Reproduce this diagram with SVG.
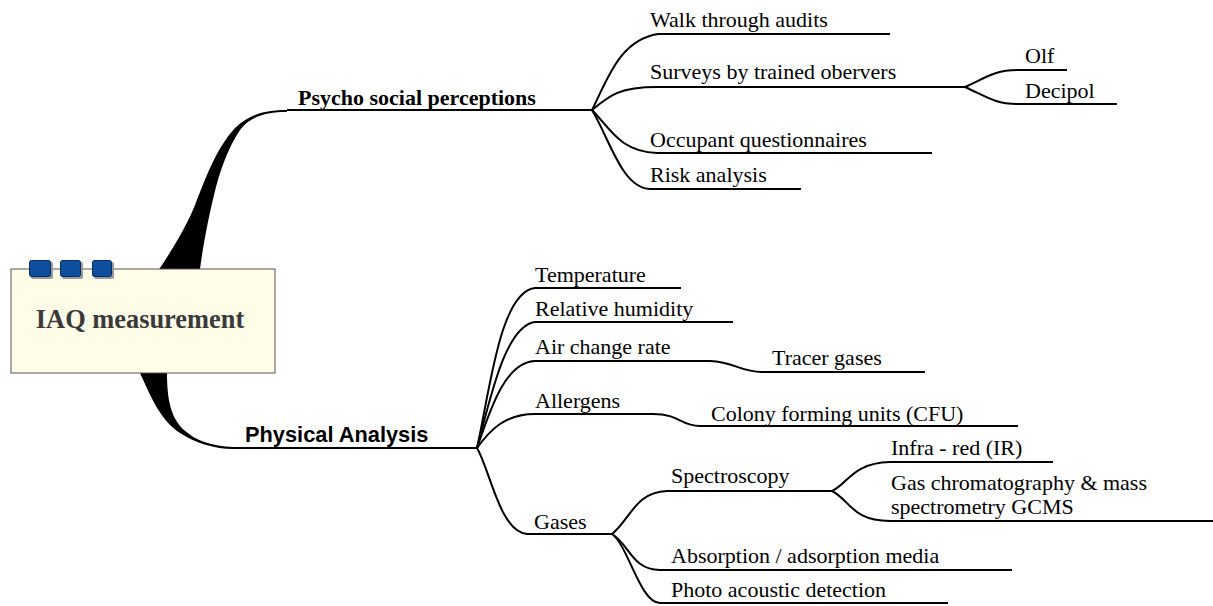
<svg xmlns="http://www.w3.org/2000/svg" width="1213" height="606" viewBox="0 0 1213 606">
<style>
.c{fill:none;stroke:#000;stroke-width:2;stroke-linejoin:round;stroke-linecap:butt}
.t{font-family:"Liberation Serif","Times New Roman",serif;font-size:22px;fill:#000}
.pb{font-family:"Liberation Serif","Times New Roman",serif;font-size:22px;font-weight:bold;fill:#000}
.ps{font-family:"Liberation Sans",Arial,sans-serif;font-size:21.8px;font-weight:bold;fill:#000}
.sq{fill:#0D4E9E;stroke:#0A2A5A;stroke-width:1}
.sh{fill:#9A9A9A}
</style>
<rect width="1213" height="606" fill="#fff"/>
<g id="connectors">
<path d="M148,285 C165,262 185,230 195,205 C205,180 215,150 235,128 C250,114 265,110 287,110 L287,112 C265,112 250,117 240,130 C228,148 220,170 214,195 C208,220 202,250 198,285 Z" fill="#000"/>
<path d="M136,360 L140,373 C150,395 160,420 180,433 C195,443 215,449 233,449 L233,447 C212,446 196,441 184,430 C171,418 167,400 167,373 L167,360 Z" fill="#000"/>
<path class="c" d="M287,110 L592,110"/>
<path class="c" d="M233,448 L477,448"/>
<path class="c" d="M592,110 C608,78 620,40 658,34 L890,34"/>
<path class="c" d="M592,110 C610,95 620,87 657,87 L965,87"/>
<path class="c" d="M965,87 C985,78 995,70 1017,70 L1067,70"/>
<path class="c" d="M965,87 C985,96 995,104 1017,104 L1117,104"/>
<path class="c" d="M592,110 C610,128 620,152 657,153 L932,153"/>
<path class="c" d="M592,110 C610,140 622,188 650,189 L801,189"/>
<path class="c" d="M477,448 C490,390 500,292 535,288 L681,288"/>
<path class="c" d="M477,448 C490,400 505,326 535,322 L733,322"/>
<path class="c" d="M477,448 C490,410 505,362 535,361 L710,361 C735,362 740,372 762,372 L925,372"/>
<path class="c" d="M477,448 C490,430 505,414 535,414 L653,414 C680,414 680,426 700,426 L1018,426"/>
<path class="c" d="M477,448 C490,470 500,532 527,534 L612,534"/>
<path class="c" d="M612,534 C630,520 635,492 667,491 L832,491"/>
<path class="c" d="M832,491 C848,484 852,463 890,462 L1053,462"/>
<path class="c" d="M832,491 C850,500 852,521 890,521 L1213,521"/>
<path class="c" d="M612,534 C630,545 632,570 660,570 L1012,570"/>
<path class="c" d="M612,534 C628,545 640,603 660,603 L948,603"/>
</g>
<g id="root">
<rect x="11" y="269" width="264" height="104" fill="#FFFDE7" stroke="#555" stroke-width="1"/>
<rect class="sh" x="31" y="262" width="22" height="17" rx="2"/>
<rect class="sh" x="62" y="262" width="21" height="17" rx="2"/>
<rect class="sh" x="94" y="262" width="20" height="17" rx="2"/>
<rect class="sq" x="29.5" y="260.5" width="21" height="16" rx="2"/>
<rect class="sq" x="60.5" y="260.5" width="20" height="16" rx="2"/>
<rect class="sq" x="92.5" y="260.5" width="19" height="16" rx="2"/>
<text x="140" y="328" text-anchor="middle" font-family="Liberation Serif,'Times New Roman',serif" font-size="26.4" font-weight="bold" fill="#3A3A3A">IAQ measurement</text>
</g>
<g id="n-psycho"><text class="pb" x="298" y="105">Psycho social perceptions</text></g>
<g id="n-walk"><text class="t" x="650" y="27">Walk through audits</text></g>
<g id="n-surveys"><text class="t" x="650" y="79">Surveys by trained obervers</text></g>
<g id="n-olf"><text class="t" x="1025" y="63">Olf</text></g>
<g id="n-decipol"><text class="t" x="1025" y="98">Decipol</text></g>
<g id="n-occupant"><text class="t" x="650" y="147">Occupant questionnaires</text></g>
<g id="n-risk"><text class="t" x="650" y="182">Risk analysis</text></g>
<g id="n-physical"><text class="ps" x="245" y="442">Physical Analysis</text></g>
<g id="n-temp"><text class="t" x="535" y="282">Temperature</text></g>
<g id="n-rh"><text class="t" x="535" y="316">Relative humidity</text></g>
<g id="n-air"><text class="t" x="535" y="354">Air change rate</text></g>
<g id="n-tracer"><text class="t" x="772" y="365">Tracer gases</text></g>
<g id="n-allergens"><text class="t" x="535" y="408">Allergens</text></g>
<g id="n-cfu"><text class="t" x="711" y="421">Colony forming units (CFU)</text></g>
<g id="n-gases"><text class="t" x="534" y="529">Gases</text></g>
<g id="n-spectro"><text class="t" x="671" y="483">Spectroscopy</text></g>
<g id="n-ir"><text class="t" x="891" y="455">Infra - red (IR)</text></g>
<g id="n-gcms"><text class="t" x="891" y="490">Gas chromatography &amp; mass</text><text class="t" x="891" y="514">spectrometry GCMS</text></g>
<g id="n-absorption"><text class="t" x="671" y="563">Absorption / adsorption media</text></g>
<g id="n-photo"><text class="t" x="671" y="597">Photo acoustic detection</text></g>
</svg>
